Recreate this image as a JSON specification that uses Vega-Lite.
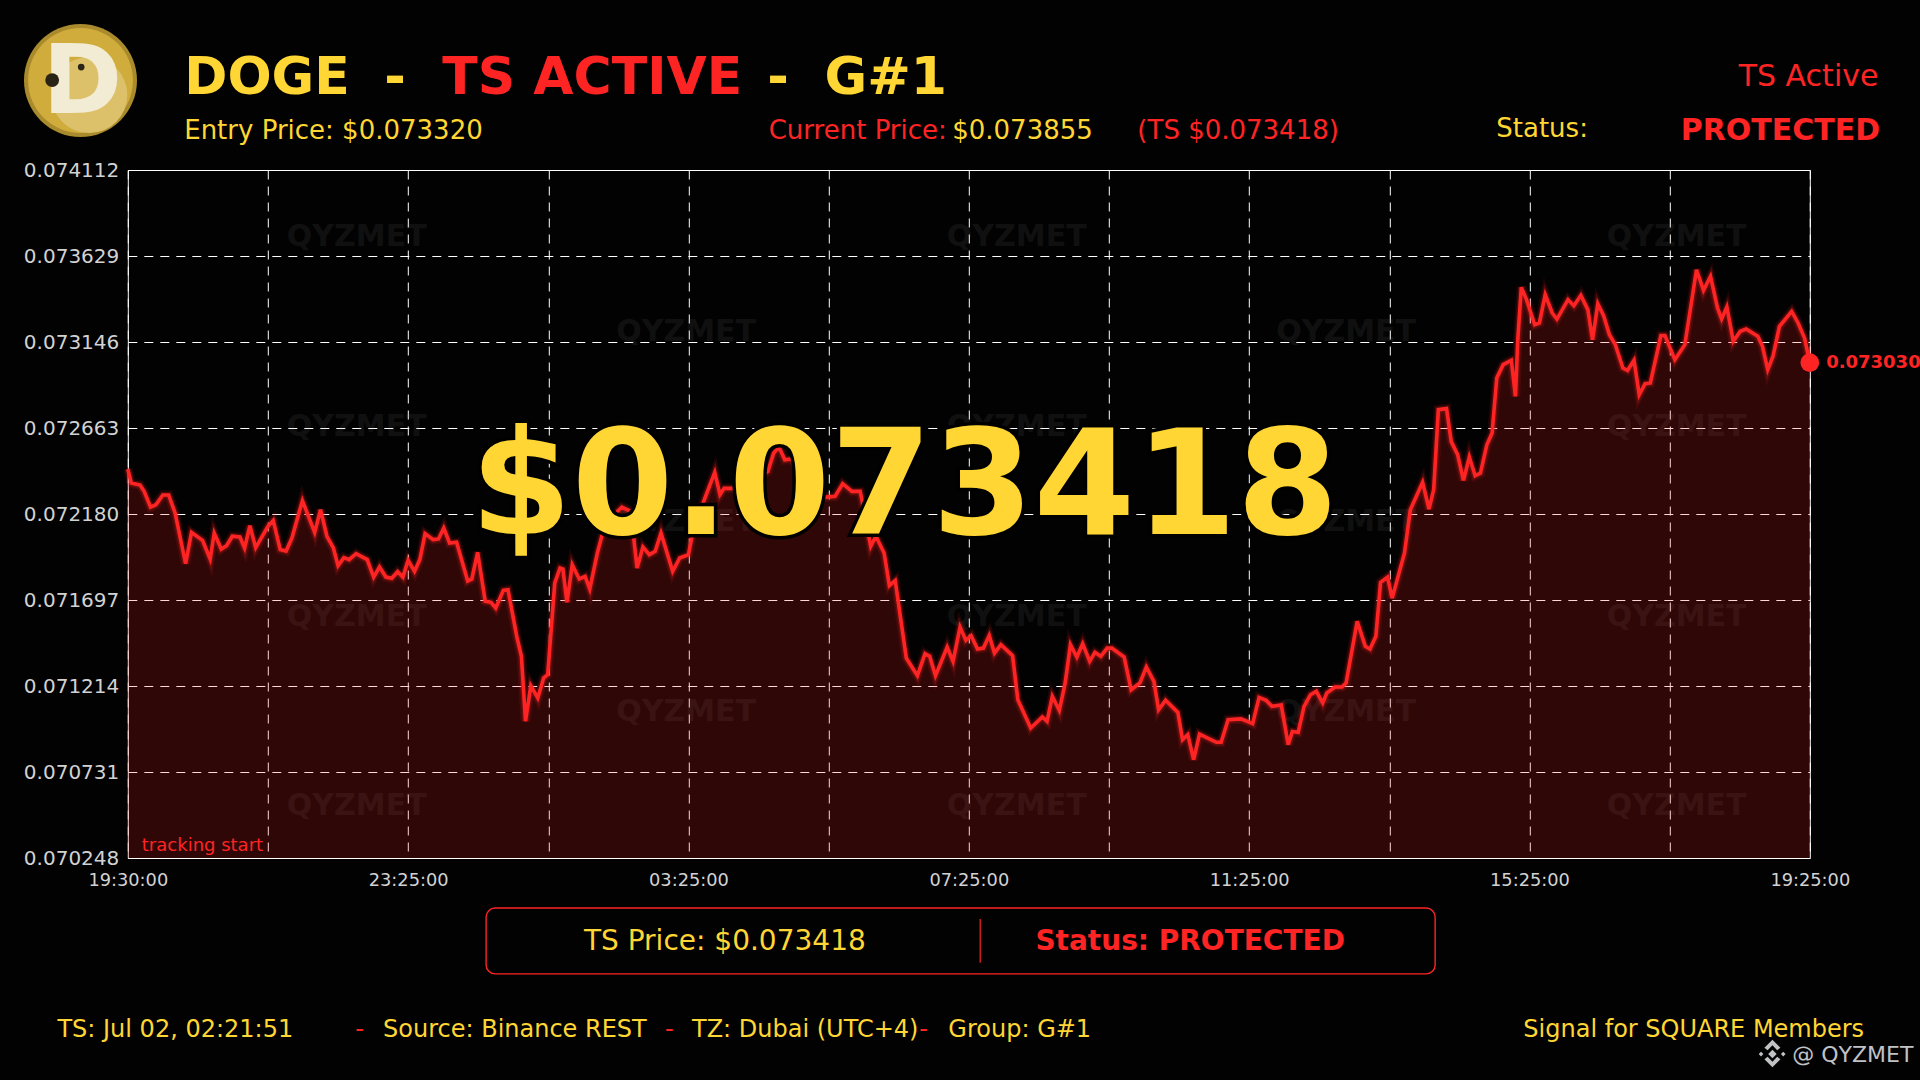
{
  "$schema": "https://vega.github.io/schema/vega-lite/v6.json",
  "description": "DOGE trailing stop signal card with the price curve",
  "autosize": {"type": "none"},
  "padding": {"left": 127.8, "top": 170, "right": 110.2, "bottom": 222},
  "width": 1682,
  "height": 688,
  "background": "#020202",
  "data": {
    "values": [
      {"step":0,"price":0.072433},{"step":0.6,"price":0.072354},{"step":2.1,"price":0.072343},{"step":2.8,"price":0.072307},{"step":3.9,"price":0.072219},{"step":4.8,"price":0.072232},{"step":6,"price":0.072287},{"step":7,"price":0.072287},{"step":8.1,"price":0.072186},{"step":9.9,"price":0.071901},
      {"step":10.9,"price":0.072077},{"step":12.8,"price":0.072032},{"step":14.1,"price":0.071927},{"step":14.8,"price":0.072073},{"step":16,"price":0.071983},{"step":16.9,"price":0.072002},{"step":17.9,"price":0.072055},{"step":19.2,"price":0.072051},{"step":20,"price":0.071989},{"step":20.9,"price":0.072114},
      {"step":21.9,"price":0.071991},{"step":24,"price":0.072111},{"step":24.9,"price":0.072144},{"step":26.1,"price":0.07198},{"step":27.1,"price":0.071972},{"step":28.1,"price":0.072045},{"step":29.9,"price":0.072255},{"step":32,"price":0.072077},{"step":33,"price":0.072204},{"step":34.1,"price":0.072055},
      {"step":35.2,"price":0.071989},{"step":36,"price":0.07189},{"step":37,"price":0.071935},{"step":37.9,"price":0.071924},{"step":39.1,"price":0.071957},{"step":41,"price":0.071924},{"step":42.1,"price":0.071826},{"step":43.1,"price":0.071882},{"step":44.2,"price":0.071826},{"step":45.2,"price":0.071819},
      {"step":46.2,"price":0.071856},{"step":47.1,"price":0.071826},{"step":48,"price":0.07192},{"step":49.1,"price":0.071858},{"step":50,"price":0.071924},{"step":50.9,"price":0.07207},{"step":52.3,"price":0.072036},{"step":53.2,"price":0.07204},{"step":54.1,"price":0.072101},{"step":55.1,"price":0.072017},
      {"step":56.3,"price":0.072021},{"step":58.2,"price":0.071804},{"step":58.9,"price":0.071815},{"step":59.9,"price":0.071965},{"step":61.2,"price":0.07169},{"step":62.2,"price":0.071684},{"step":63,"price":0.071652},{"step":64.3,"price":0.071751},{"step":65.1,"price":0.071755},{"step":66.6,"price":0.071493},
      {"step":67.4,"price":0.071381},{"step":68.1,"price":0.071016},{"step":69,"price":0.071216},{"step":70.2,"price":0.071147},{"step":71.2,"price":0.071259},{"step":71.9,"price":0.071278},{"step":73.1,"price":0.071792},{"step":74,"price":0.071877},{"step":74.5,"price":0.071871},{"step":75.2,"price":0.071684},
      {"step":76.1,"price":0.071895},{"step":77.3,"price":0.071815},{"step":78.3,"price":0.07183},{"step":79.1,"price":0.071759},{"step":80.4,"price":0.071961},{"step":81.3,"price":0.072073},{"step":83,"price":0.072167},{"step":84.6,"price":0.072219},{"step":86.1,"price":0.072195},{"step":86.6,"price":0.072055},
      {"step":87.2,"price":0.071877},{"step":88.2,"price":0.071995},{"step":89.3,"price":0.071952},{"step":90.3,"price":0.07197},{"step":91.3,"price":0.072073},{"step":93.3,"price":0.071858},{"step":94.5,"price":0.071933},{"step":96,"price":0.071952},{"step":96.6,"price":0.072055},{"step":98.7,"price":0.07226},
      {"step":100.5,"price":0.072414},{"step":101.4,"price":0.072289},{"step":102.1,"price":0.072324},{"step":103.7,"price":0.072324},{"step":106.7,"price":0.072354},{"step":109.6,"price":0.07242},{"step":110.6,"price":0.072523},{"step":111.5,"price":0.072556},{"step":112.5,"price":0.072485},{"step":113.6,"price":0.072489},
      {"step":116.5,"price":0.072335},{"step":119.5,"price":0.072275},{"step":121.1,"price":0.072279},{"step":122.4,"price":0.07235},{"step":124,"price":0.072307},{"step":125.4,"price":0.072307},{"step":125.7,"price":0.07226},{"step":127.2,"price":0.071998},{"step":128.1,"price":0.072055},{"step":129.5,"price":0.071961},
      {"step":130.4,"price":0.071778},{"step":131.4,"price":0.071806},{"step":133.3,"price":0.071371},{"step":135.2,"price":0.071272},{"step":136.5,"price":0.071396},{"step":137.3,"price":0.071381},{"step":138.3,"price":0.071272},{"step":140.3,"price":0.071433},{"step":141.3,"price":0.071353},{"step":142.5,"price":0.071545},
      {"step":143.5,"price":0.071471},{"step":144.4,"price":0.071497},{"step":145.5,"price":0.071422},{"step":146.5,"price":0.071427},{"step":147.5,"price":0.071497},{"step":148.4,"price":0.071399},{"step":149.5,"price":0.071446},{"step":151.5,"price":0.071384},{"step":152.4,"price":0.071137},{"step":154.6,"price":0.070978},
      {"step":156.6,"price":0.07104},{"step":157.4,"price":0.071016},{"step":158.3,"price":0.071156},{"step":159.5,"price":0.071077},{"step":160.5,"price":0.071231},{"step":161.4,"price":0.071446},{"step":162.5,"price":0.071377},{"step":163.5,"price":0.071452},{"step":164.7,"price":0.071353},{"step":165.6,"price":0.071403},
      {"step":166.6,"price":0.071381},{"step":167.7,"price":0.071427},{"step":168.5,"price":0.071427},{"step":170.6,"price":0.071377},{"step":171.8,"price":0.071193},{"step":173.3,"price":0.071231},{"step":174.4,"price":0.071321},{"step":175.7,"price":0.07124},{"step":176.5,"price":0.071081},{"step":177.7,"price":0.071134},
      {"step":179.8,"price":0.071066},{"step":180.6,"price":0.070913},{"step":181.5,"price":0.070941},{"step":182.5,"price":0.0708},{"step":183.5,"price":0.070944},{"step":186.4,"price":0.070898},{"step":187.2,"price":0.070898},{"step":188.4,"price":0.071025},{"step":190.6,"price":0.071029},{"step":192.6,"price":0.071003},
      {"step":193.7,"price":0.07115},{"step":194.9,"price":0.071134},{"step":195.9,"price":0.0711},{"step":197.5,"price":0.071107},{"step":198.7,"price":0.070885},{"step":199.4,"price":0.070959},{"step":200.4,"price":0.070954},{"step":201.4,"price":0.0711},{"step":202.5,"price":0.071165},{"step":203.5,"price":0.071184},
      {"step":204.6,"price":0.071119},{"step":205.3,"price":0.071175},{"step":206.7,"price":0.071208},{"step":207.9,"price":0.071208},{"step":208.6,"price":0.071231},{"step":210.5,"price":0.071577},{"step":211.9,"price":0.071437},{"step":212.7,"price":0.071422},{"step":213.7,"price":0.071493},{"step":214.5,"price":0.071796},
      {"step":215.7,"price":0.071826},{"step":216.5,"price":0.071708},{"step":218.6,"price":0.071961},{"step":219.6,"price":0.072204},{"step":221.7,"price":0.072358},{"step":222.8,"price":0.072208},{"step":223.6,"price":0.072317},{"step":224.4,"price":0.072766},{"step":225.8,"price":0.072772},{"step":226.6,"price":0.072588},
      {"step":227.7,"price":0.072513},{"step":228.7,"price":0.072369},{"step":229.7,"price":0.0725},{"step":230.7,"price":0.072395},{"step":231.6,"price":0.07241},{"step":232.7,"price":0.072569},{"step":233.6,"price":0.072635},{"step":234.4,"price":0.072944},{"step":235.5,"price":0.073019},{"step":236.9,"price":0.073043},
      {"step":237.6,"price":0.072841},{"step":238,"price":0.073159},{"step":238.6,"price":0.073453},{"step":239.5,"price":0.073384},{"step":240.9,"price":0.073243},{"step":241.7,"price":0.073253},{"step":242.7,"price":0.073412},{"step":243.9,"price":0.073309},{"step":244.7,"price":0.073275},{"step":246.6,"price":0.073384},
      {"step":247.6,"price":0.07335},{"step":248.8,"price":0.073408},{"step":250,"price":0.073328},{"step":250.8,"price":0.073159},{"step":251.7,"price":0.073361},{"step":252.7,"price":0.073294},{"step":253.7,"price":0.073187},{"step":254.7,"price":0.073131},{"step":256,"price":0.073},{"step":256.8,"price":0.072987},
      {"step":257.9,"price":0.073043},{"step":258.8,"price":0.07285},{"step":259.8,"price":0.072912},{"step":260.7,"price":0.072916},{"step":262.5,"price":0.073182},{"step":263.2,"price":0.073182},{"step":264.9,"price":0.073047},{"step":266.6,"price":0.073131},{"step":268.6,"price":0.073552},{"step":269.8,"price":0.073436},
      {"step":271,"price":0.073515},{"step":272.2,"price":0.073337},{"step":272.9,"price":0.073275},{"step":273.8,"price":0.073343},{"step":274.9,"price":0.07315},{"step":276.1,"price":0.073206},{"step":277.1,"price":0.073219},{"step":279.1,"price":0.073178},{"step":279.9,"price":0.073122},{"step":280.8,"price":0.072991},
      {"step":281.7,"price":0.073066},{"step":282.8,"price":0.073234},{"step":284.9,"price":0.073318},{"step":286,"price":0.073253},{"step":287.1,"price":0.073168},{"step":288,"price":0.07303}
    ]
  },
  "encoding": {
    "x": {
      "field": "step",
      "type": "quantitative",
      "title": null,
      "scale": {"domain": [0, 288], "nice": false, "zero": false},
      "axis": {
        "values": [0, 24, 48, 72, 96, 120, 144, 168, 192, 216, 240, 264, 288],
        "labelExpr": "{'0':'19:30:00','48':'23:25:00','96':'03:25:00','144':'07:25:00','192':'11:25:00','240':'15:25:00','288':'19:25:00'}[datum.value] || ''",
        "grid": true,
        "gridColor": "#ffffff",
        "gridDash": [9, 7],
        "gridWidth": 1,
        "ticks": false,
        "domain": false,
        "labelColor": "#d2d2d2",
        "labelFontSize": 17.8,
        "labelPadding": 13,
        "labelFlush": false,
        "labelOverlap": false
      }
    },
    "y": {
      "field": "price",
      "type": "quantitative",
      "title": null,
      "scale": {"domain": [0.070248, 0.074112], "nice": false, "zero": false},
      "axis": {
        "values": [0.070248, 0.070731, 0.071214, 0.071697, 0.07218, 0.072663, 0.073146, 0.073629, 0.074112],
        "format": ".6f",
        "grid": true,
        "gridColor": "#ffffff",
        "gridDash": [9, 7],
        "gridWidth": 1,
        "ticks": false,
        "domain": false,
        "labelColor": "#d2d2d2",
        "labelFontSize": 20,
        "labelPadding": 9,
        "labelFlush": false,
        "labelOverlap": false
      }
    }
  },
  "layer": [
    {
      "data": {"values": [
        {"step":39.2,"price":0.073735,"label":"QYZMET"},{"step":152.2,"price":0.073735,"label":"QYZMET"},{"step":265.2,"price":0.073735,"label":"QYZMET"},
        {"step":95.6,"price":0.073202,"label":"QYZMET"},{"step":208.6,"price":0.073202,"label":"QYZMET"},
        {"step":39.2,"price":0.072668,"label":"QYZMET"},{"step":152.2,"price":0.072668,"label":"QYZMET"},{"step":265.2,"price":0.072668,"label":"QYZMET"},
        {"step":95.6,"price":0.072135,"label":"QYZMET"},{"step":208.6,"price":0.072135,"label":"QYZMET"},
        {"step":39.2,"price":0.071601,"label":"QYZMET"},{"step":152.2,"price":0.071601,"label":"QYZMET"},{"step":265.2,"price":0.071601,"label":"QYZMET"},
        {"step":95.6,"price":0.071068,"label":"QYZMET"},{"step":208.6,"price":0.071068,"label":"QYZMET"},
        {"step":39.2,"price":0.07054,"label":"QYZMET"},{"step":152.2,"price":0.07054,"label":"QYZMET"},{"step":265.2,"price":0.07054,"label":"QYZMET"}
      ]},
      "mark": {"type": "text", "fontSize": 30, "fontWeight": "bold", "color": "#8a8a8a", "opacity": 0.1, "align": "center", "baseline": "middle"},
      "encoding": {"text": {"field": "label"}}
    },
    {
      "mark": {"type": "area", "color": "#ff2222", "opacity": 0.18},
      "encoding": {"y2": {"datum": 0.070248}}
    },
    {"mark": {"type": "line", "color": "#ff2222", "strokeWidth": 10, "opacity": 0.1}},
    {"mark": {"type": "line", "color": "#ff2222", "strokeWidth": 6.5, "opacity": 0.22}},
    {"mark": {"type": "line", "color": "#ff2424", "strokeWidth": 3.6}},
    {
      "data": {"values": [{"step": 288, "price": 0.07303}]},
      "mark": {"type": "point", "filled": true, "size": 350, "color": "#ff2424", "opacity": 1}
    },
    {
      "data": {"values": [{"step": 290.8, "price": 0.07303, "label": "0.073030"}]},
      "mark": {"type": "text", "fontSize": 18, "fontWeight": "bold", "color": "#ff2424", "align": "left", "baseline": "middle"},
      "encoding": {"text": {"field": "label"}}
    },
    {
      "data": {"values": [{"step": 2.4, "price": 0.070287, "label": "tracking start"}]},
      "mark": {"type": "text", "fontSize": 18, "color": "#ff2424", "align": "left", "baseline": "alphabetic"},
      "encoding": {"text": {"field": "label"}}
    },
    {
      "data": {"values": [{"step": 132.95, "price": 0.072068, "label": "$0.073418"}]},
      "mark": {"type": "text", "fontSize": 146, "fontWeight": "bold", "color": "#ffd633", "stroke": "#000000", "strokeWidth": 7, "align": "center", "baseline": "alphabetic"},
      "encoding": {"text": {"field": "label"}}
    },
    {
      "data": {"values": [{"step": 132.95, "price": 0.072068, "label": "$0.073418"}]},
      "mark": {"type": "text", "fontSize": 146, "fontWeight": "bold", "color": "#ffd633", "align": "center", "baseline": "alphabetic"},
      "encoding": {"text": {"field": "label"}}
    },
    {
      "data": {"values": [{"step": -8.1, "price": 0.074615}]},
      "mark": {"type": "point", "filled": true, "size": 12769, "color": "#a98a2c", "opacity": 1}
    },
    {
      "data": {"values": [{"step": -8.1, "price": 0.074615}]},
      "mark": {"type": "point", "filled": true, "size": 11000, "color": "#cfac3c", "opacity": 1}
    },
    {
      "data": {"values": [{"step": -6.6, "price": 0.074533}]},
      "mark": {"type": "point", "filled": true, "size": 5800, "color": "#dcc16a", "opacity": 1}
    },
    {
      "data": {"values": [{"step": -7.8, "price": 0.074432, "label": "D"}]},
      "mark": {"type": "text", "fontSize": 96, "fontWeight": "bold", "color": "#f3ecd4", "align": "center", "baseline": "alphabetic"},
      "encoding": {"text": {"field": "label"}}
    },
    {
      "data": {"values": [{"step": -12.95, "price": 0.074617}]},
      "mark": {"type": "point", "filled": true, "size": 190, "color": "#2a2416", "opacity": 1}
    },
    {
      "data": {"values": [{"step": -7.98, "price": 0.07469}]},
      "mark": {"type": "point", "filled": true, "size": 45, "color": "#2a2416", "opacity": 1}
    },
    {
      "data": {"values": [
        {"step": 9.66, "price": 0.074539, "label": "DOGE", "kind": "info"},
        {"step": 43.9, "price": 0.074539, "label": "-", "kind": "info"},
        {"step": 53.84, "price": 0.074539, "label": "TS ACTIVE", "kind": "alert"},
        {"step": 109.49, "price": 0.074539, "label": "-", "kind": "info"},
        {"step": 119.3, "price": 0.074539, "label": "G#1", "kind": "info"}
      ]},
      "mark": {"type": "text", "fontSize": 52, "fontWeight": "bold", "align": "left", "baseline": "alphabetic"},
      "encoding": {
        "text": {"field": "label"},
        "color": {"field": "kind", "type": "nominal", "scale": {"domain": ["info", "alert"], "range": ["#ffd633", "#ff2424"]}, "legend": null}
      }
    },
    {
      "data": {"values": [
        {"step": 9.66, "price": 0.074286, "label": "Entry Price: $0.073320", "kind": "info"},
        {"step": 109.74, "price": 0.074286, "label": "Current Price:", "kind": "alert"},
        {"step": 141.16, "price": 0.074286, "label": "$0.073855", "kind": "info"},
        {"step": 172.86, "price": 0.074286, "label": "(TS $0.073418)", "kind": "alert"},
        {"step": 234.32, "price": 0.074299, "label": "Status:", "kind": "info"}
      ]},
      "mark": {"type": "text", "fontSize": 26, "align": "left", "baseline": "alphabetic"},
      "encoding": {
        "text": {"field": "label"},
        "color": {"field": "kind", "type": "nominal", "scale": {"domain": ["info", "alert"], "range": ["#ffd633", "#ff2424"]}, "legend": null}
      }
    },
    {
      "data": {"values": [{"step": 299.75, "price": 0.074584, "label": "TS Active"}]},
      "mark": {"type": "text", "fontSize": 30, "color": "#ff2424", "align": "right", "baseline": "alphabetic"},
      "encoding": {"text": {"field": "label"}}
    },
    {
      "data": {"values": [{"step": 300.05, "price": 0.07428, "label": "PROTECTED"}]},
      "mark": {"type": "text", "fontSize": 30, "fontWeight": "bold", "color": "#ff2424", "align": "right", "baseline": "alphabetic"},
      "encoding": {"text": {"field": "label"}}
    },
    {
      "data": {"values": [{"step": 61.35, "stepEnd": 223.85, "price": 0.069967, "priceEnd": 0.069597}]},
      "mark": {"type": "rect", "filled": false, "stroke": "#ff2424", "strokeWidth": 1.4, "cornerRadius": 9},
      "encoding": {"x2": {"field": "stepEnd"}, "y2": {"field": "priceEnd"}}
    },
    {
      "data": {"values": [{"step": 145.95, "price": 0.069906, "priceEnd": 0.069659}]},
      "mark": {"type": "rule", "color": "#ff2424", "strokeWidth": 1.2},
      "encoding": {"y2": {"field": "priceEnd"}}
    },
    {
      "data": {"values": [{"step": 78.1, "price": 0.069732, "label": "TS Price: $0.073418"}]},
      "mark": {"type": "text", "fontSize": 28, "color": "#ffd633", "align": "left", "baseline": "alphabetic"},
      "encoding": {"text": {"field": "label"}}
    },
    {
      "data": {"values": [{"step": 155.4, "price": 0.069732, "label": "Status: PROTECTED"}]},
      "mark": {"type": "text", "fontSize": 28, "fontWeight": "bold", "color": "#ff2424", "align": "left", "baseline": "alphabetic"},
      "encoding": {"text": {"field": "label"}}
    },
    {
      "data": {"values": [
        {"step": -12.05, "price": 0.069243, "label": "TS: Jul 02, 02:21:51", "kind": "info"},
        {"step": 38.94, "price": 0.069243, "label": "-", "kind": "alert"},
        {"step": 43.7, "price": 0.069243, "label": "Source: Binance REST", "kind": "info"},
        {"step": 92, "price": 0.069243, "label": "-", "kind": "alert"},
        {"step": 96.6, "price": 0.069243, "label": "TZ: Dubai (UTC+4)", "kind": "info"},
        {"step": 135.5, "price": 0.069243, "label": "-", "kind": "alert"},
        {"step": 140.5, "price": 0.069243, "label": "Group: G#1", "kind": "info"}
      ]},
      "mark": {"type": "text", "fontSize": 24, "align": "left", "baseline": "alphabetic"},
      "encoding": {
        "text": {"field": "label"},
        "color": {"field": "kind", "type": "nominal", "scale": {"domain": ["info", "alert"], "range": ["#ffd633", "#ff2424"]}, "legend": null}
      }
    },
    {
      "data": {"values": [{"step": 297.3, "price": 0.069243, "label": "Signal for SQUARE Members"}]},
      "mark": {"type": "text", "fontSize": 24, "color": "#ffd633", "align": "right", "baseline": "alphabetic"},
      "encoding": {"text": {"field": "label"}}
    },
    {
      "data": {"values": [{"step": 285, "price": 0.069104, "label": "@ QYZMET"}]},
      "mark": {"type": "text", "fontSize": 22, "color": "#c0c2c6", "align": "left", "baseline": "alphabetic"},
      "encoding": {"text": {"field": "label"}}
    },
    {
      "data": {"values": [{"step": 281.6, "price": 0.069147}]},
      "mark": {"type": "point", "filled": true, "shape": "diamond", "size": 72, "color": "#c0c2c6", "opacity": 1}
    },
    {
      "data": {"values": [{"step": 279.65, "price": 0.069147}, {"step": 283.45, "price": 0.069147}]},
      "mark": {"type": "point", "filled": true, "shape": "diamond", "size": 22, "color": "#c0c2c6", "opacity": 1}
    },
    {
      "data": {"values": [{"step": 281.6, "price": 0.069198}]},
      "mark": {"type": "point", "filled": true, "shape": "M-1,0.35 L0,-0.65 L1,0.35 L0.6,0.65 L0,0.05 L-0.6,0.65 Z", "size": 256, "color": "#c0c2c6", "opacity": 1}
    },
    {
      "data": {"values": [{"step": 281.6, "price": 0.069102}]},
      "mark": {"type": "point", "filled": true, "shape": "M-1,-0.35 L0,0.65 L1,-0.35 L0.6,-0.65 L0,-0.05 L-0.6,-0.65 Z", "size": 256, "color": "#c0c2c6", "opacity": 1}
    }
  ],
  "config": {
    "font": "DejaVu Sans",
    "axis": {"labelFont": "DejaVu Sans"},
    "text": {"font": "DejaVu Sans"},
    "view": {"stroke": "#ffffff", "strokeWidth": 1}
  }
}
